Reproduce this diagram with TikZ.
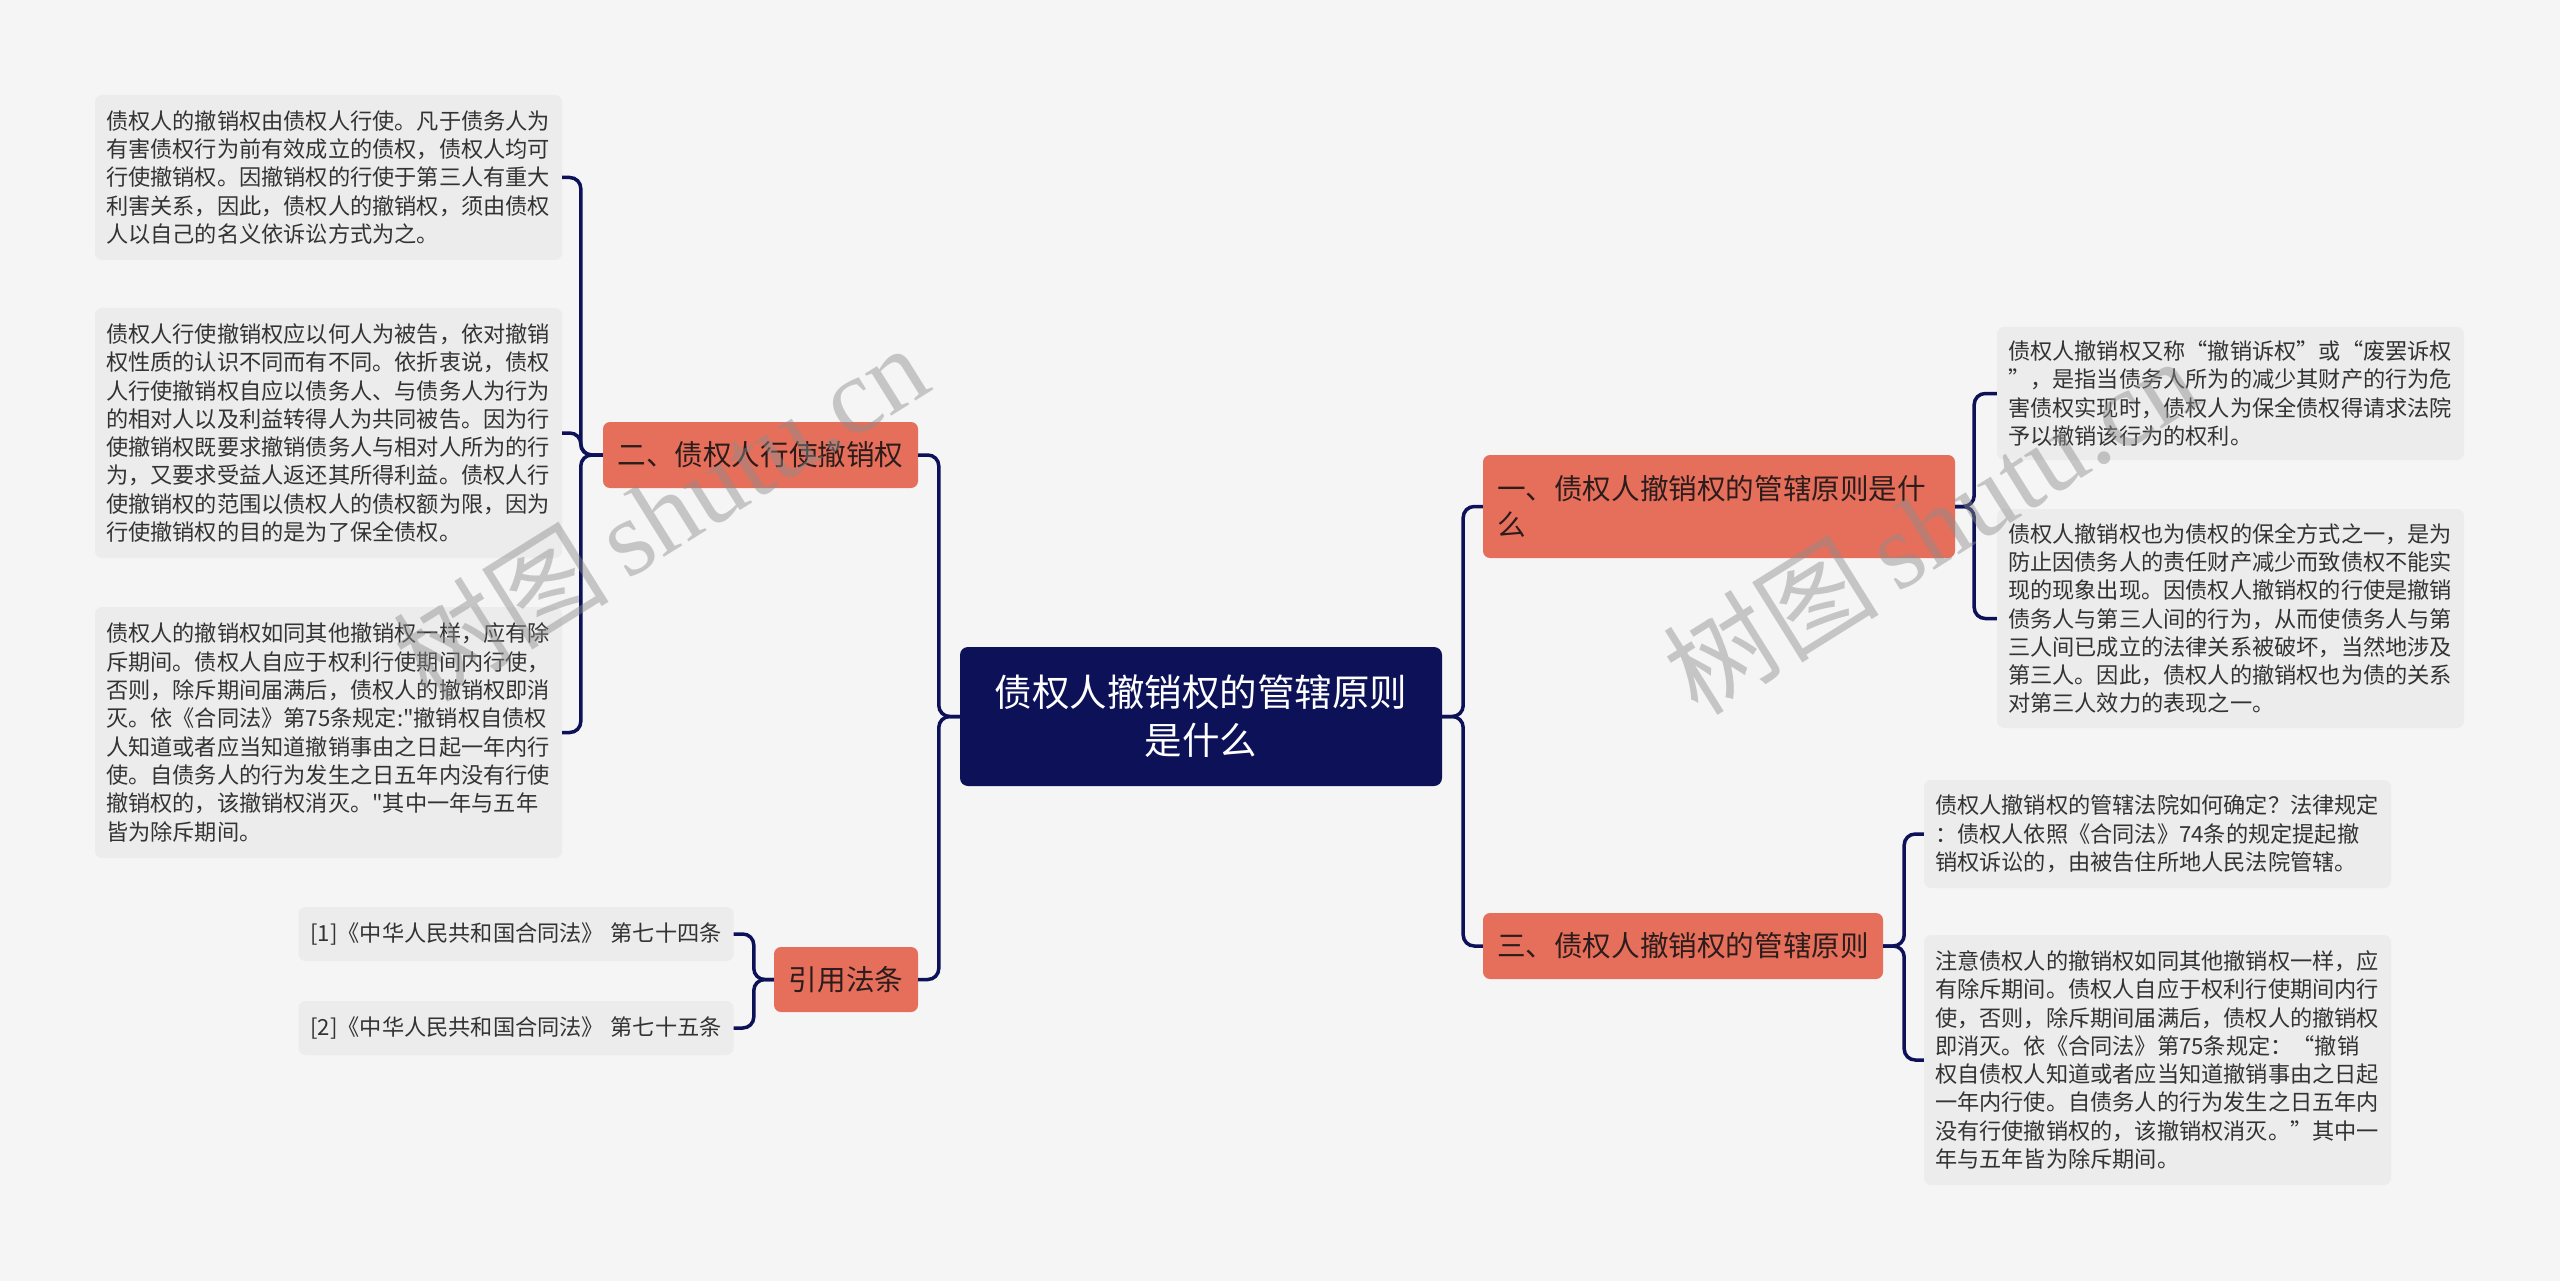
\documentclass[tikz,border=0pt]{standalone}
\usepackage{fontspec}
\setmainfont{Noto Sans CJK SC}
\newfontfamily\cjk{Noto Sans CJK SC}
\newfontfamily\wmlatin{Liberation Serif}
\definecolor{bgc}{RGB}{245,245,245}
\definecolor{leafc}{RGB}{236,236,236}
\definecolor{navy}{RGB}{12,17,88}
\definecolor{orangec}{RGB}{229,111,91}
\definecolor{orangetxt}{RGB}{45,28,28}
\definecolor{leaftxt}{RGB}{51,51,51}
\definecolor{wmc}{RGB}{140,140,140}
\tikzset{
  rootbox/.style={fill=navy, rounded corners=8pt, text=white, align=center,
    font=\cjk\fontsize{37.5}{48}\selectfont, inner xsep=15pt, inner ysep=0pt,
    text width=452pt, minimum height=139pt},
  branchbox/.style={fill=orangec, rounded corners=7pt, text=orangetxt,
    font=\cjk\fontsize{28.6}{36.7}\selectfont, inner xsep=0pt, inner ysep=0pt, align=center},
  leafbox/.style={fill=leafc, rounded corners=7pt, text=leaftxt, align=left,
    font=\cjk\fontsize{22.2}{28.3}\selectfont, inner xsep=11pt, inner ysep=0pt,
    text width=445pt},
  refbox/.style={fill=leafc, rounded corners=7pt, text=leaftxt, align=center,
    font=\cjk\fontsize{22.2}{28.3}\selectfont, inner sep=0pt},
  conn/.style={draw=navy, line width=3.5pt, rounded corners=11pt},
  wm/.style={text=wmc, opacity=0.45, rotate=32, font=\fontsize{108}{110}\selectfont}
}
\begin{document}
\begin{tikzpicture}[x=1pt,y=-1pt]
\fill[bgc] (0,0) rectangle (2560,1281);
\useasboundingbox (0,0) rectangle (2560,1281);

% root
\node[rootbox] (root) at (1201,716.5) {债权人撤销权的管辖原则\\是什么};

% branches
\node[branchbox, align=left, text width=444pt, inner xsep=14pt, minimum height=103pt] (b1) at (1719,506.5)
  {一、债权人撤销权的管辖原则是什\\么};
\node[branchbox, minimum width=315pt, minimum height=66pt] (b2) at (760.5,455) {二、债权人行使撤销权};
\node[branchbox, minimum width=400pt, minimum height=66pt] (b3) at (1683,946) {三、债权人撤销权的管辖原则};
\node[branchbox, minimum width=144pt, minimum height=65pt] (b4) at (846,979.5) {引用法条};

% left leaves
\node[leafbox, minimum height=165pt] (l1) at (328.5,177.5) {债权人的撤销权由债权人行使。凡于债务人为\\有害债权行为前有效成立的债权，债权人均可\\行使撤销权。因撤销权的行使于第三人有重大\\利害关系，因此，债权人的撤销权，须由债权\\人以自己的名义依诉讼方式为之。};
\node[leafbox, minimum height=250pt] (l2) at (328.5,433) {债权人行使撤销权应以何人为被告，依对撤销\\权性质的认识不同而有不同。依折衷说，债权\\人行使撤销权自应以债务人、与债务人为行为\\的相对人以及利益转得人为共同被告。因为行\\使撤销权既要求撤销债务人与相对人所为的行\\为，又要求受益人返还其所得利益。债权人行\\使撤销权的范围以债权人的债权额为限，因为\\行使撤销权的目的是为了保全债权。};
\node[leafbox, minimum height=251pt] (l3) at (328.5,732.5) {债权人的撤销权如同其他撤销权一样，应有除\\斥期间。债权人自应于权利行使期间内行使，\\否则，除斥期间届满后，债权人的撤销权即消\\灭。依《合同法》第75条规定:"撤销权自债权\\人知道或者应当知道撤销事由之日起一年内行\\使。自债务人的行为发生之日五年内没有行使\\撤销权的，该撤销权消灭。"其中一年与五年\\皆为除斥期间。};

% refs
\node[refbox, minimum width=435pt, minimum height=54pt] (r1) at (516,934) {[1]《中华人民共和国合同法》\hspace{0.3em}第七十四条};
\node[refbox, minimum width=435pt, minimum height=54pt] (r2) at (516,1028) {[2]《中华人民共和国合同法》\hspace{0.3em}第七十五条};

% right leaves
\node[leafbox, minimum height=133pt] (q1) at (2230.5,393.5) {债权人撤销权又称“撤销诉权”或“废罢诉权\\”，是指当债务人所为的减少其财产的行为危\\害债权实现时，债权人为保全债权得请求法院\\予以撤销该行为的权利。};
\node[leafbox, minimum height=219pt] (q2) at (2230.5,618.5) {债权人撤销权也为债权的保全方式之一，是为\\防止因债务人的责任财产减少而致债权不能实\\现的现象出现。因债权人撤销权的行使是撤销\\债务人与第三人间的行为，从而使债务人与第\\三人间已成立的法律关系被破坏，当然地涉及\\第三人。因此，债权人的撤销权也为债的关系\\对第三人效力的表现之一。};
\node[leafbox, minimum height=108pt] (q3) at (2157.5,834) {债权人撤销权的管辖法院如何确定？法律规定\\：债权人依照《合同法》74条的规定提起撤\\销权诉讼的，由被告住所地人民法院管辖。};
\node[leafbox, minimum height=250pt] (q4) at (2157.5,1060) {注意债权人的撤销权如同其他撤销权一样，应\\有除斥期间。债权人自应于权利行使期间内行\\使，否则，除斥期间届满后，债权人的撤销权\\即消灭。依《合同法》第75条规定：“撤销\\权自债权人知道或者应当知道撤销事由之日起\\一年内行使。自债务人的行为发生之日五年内\\没有行使撤销权的，该撤销权消灭。”其中一\\年与五年皆为除斥期间。};

% connectors
\draw[conn] (root.west) -- ++(-21,0) |- (b2.east);
\draw[conn] (root.west) -- ++(-21,0) |- (b4.east);
\draw[conn] (root.east) -- ++(21,0) |- (b1.west);
\draw[conn] (root.east) -- ++(21,0) |- (b3.west);
\draw[conn] (b2.west) -- ++(-22,0) |- (l1.east);
\draw[conn] (b2.west) -- ++(-22,0) |- (l2.east);
\draw[conn] (b2.west) -- ++(-22,0) |- (l3.east);
\draw[conn] (b4.west) -- ++(-20,0) |- (r1.east);
\draw[conn] (b4.west) -- ++(-20,0) |- (r2.east);
\draw[conn] (b1.east) -- ++(19,0) |- (q1.west);
\draw[conn] (b1.east) -- ++(19,0) |- (q2.west);
\draw[conn] (b3.east) -- ++(21,0) |- (q3.west);
\draw[conn] (b3.east) -- ++(21,0) |- (q4.west);

% watermarks
\node[wm] (wm1) at (660,512) {\cjk 树图\,\wmlatin shutu.cn};
\node[wm] (wm2) at (1930,525) {\cjk 树图\,\wmlatin shutu.cn};
\end{tikzpicture}
\end{document}
